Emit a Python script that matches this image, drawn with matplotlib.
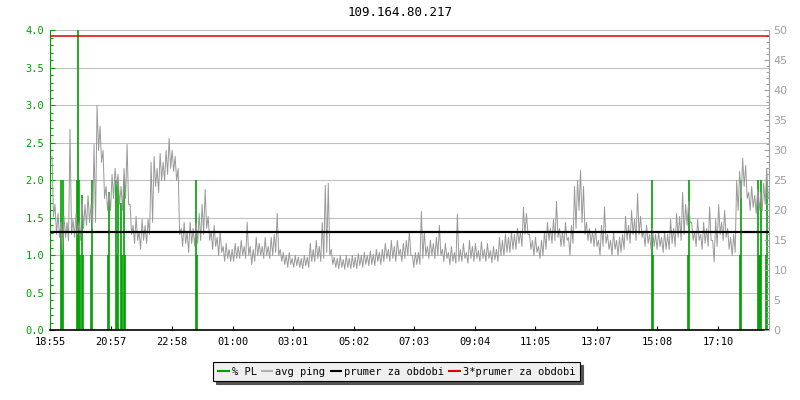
import numpy as np
import matplotlib.pyplot as plt
from matplotlib.ticker import MultipleLocator, FormatStrFormatter
from matplotlib.lines import Line2D

plt.rcParams['font.family'] = ['DejaVu Sans Mono']

title = "109.164.80.217"
tick_labels = ["18:55", "20:57", "22:58", "01:00", "03:01", "05:02",
               "07:03", "09:04", "11:05", "13:07", "15:08", "17:10"]

# avg ping [ms]: upper and lower edge of the jitter, one pair every ~6 minutes
ping_hi = [29, 21, 19.5, 18, 19, 18, 33.5, 18.5, 19.5, 18,
           22, 21, 22.5, 21, 31, 37.5, 34, 30, 24, 23,
           26, 27, 26, 24, 27, 31, 21, 17.5, 19, 16.5,
           18.5, 17.5, 18.5, 28, 29, 27, 29.5, 28, 30, 32,
           30, 29, 27, 17, 18, 16.5, 18, 17, 18, 19.5,
           21, 23.5, 19, 16.5, 17.5, 15.5, 16.5, 14, 14.5, 13.5,
           13.5, 14.5, 14, 15, 14, 18, 14, 13.5, 15.5, 14.5,
           14, 15.5, 14, 15.5, 16, 19.5, 13.5, 13, 12.5, 13,
           12, 12.5, 12.2, 12, 12.5, 12.2, 14.5, 13.5, 15, 14,
           18, 24.2, 24.5, 13.5, 12.2, 12, 12.5, 11.8, 12.5, 12,
           12.5, 12.2, 12.8, 12.5, 13, 12.5, 13.2, 12.7, 13.5, 13,
           13.5, 14.5, 13.5, 15, 14, 15, 13.5, 14.5, 15, 16.5,
           12.5, 13, 13, 19.8, 16.5, 14, 15, 14.5, 15.5, 17.5,
           13.5, 14.5, 13, 14, 13, 19.4, 13.5, 14.5, 13, 15,
           14, 14.5, 13.3, 14.8, 13.5, 14.5, 13.3, 14, 13.5, 15.5,
           15, 16, 15.5, 16.5, 16, 17, 16.5, 20.5, 19.5, 16,
           15, 15.5, 14, 15, 16.5, 18, 17, 18.5, 21.5, 17,
           16.5, 18, 15.5, 17.5, 24, 25, 26.7, 24, 18, 17,
           16.5,
           17, 15, 17.5, 20.6, 16, 15, 16.5, 15, 15.5, 16,
           19, 17.5, 20, 18.5, 22.8, 19, 16.5, 17.5, 16, 17,
           16, 16.5, 15.5, 16.5, 16, 18.5, 17, 19.5, 19, 23,
           21, 21.5, 18, 16.5, 18.5, 16, 18, 17, 20.6, 15,
           18.5, 21, 18, 20, 17, 15.5, 16, 25, 26.5, 28.7,
           27.5, 23, 24, 22.5, 23.5, 23, 24.5, 27]
ping_lo = [19, 16, 15.5, 13.5, 15.5, 15, 16, 15.5, 16, 15,
           17, 17.5, 18, 17, 18, 30, 28, 22, 20, 20,
           22, 24, 21, 20, 22, 21, 16, 14.5, 15, 13.5,
           15, 14.5, 16, 18, 24, 23, 25, 25, 26, 27,
           26.5, 25, 16, 14, 14.5, 13, 14.5, 14, 14.5, 15,
           16, 17, 15, 13.5, 14, 12.5, 13, 11.5, 12, 11.5,
           11.5, 12, 12, 12.5, 12, 12.5, 11, 11.5, 12.5, 12.5,
           12, 12.5, 12, 12.5, 13, 12.5, 11.5, 11, 10.5, 11,
           10.5, 10.8, 10.5, 10.3, 10.8, 10.5, 11.5, 11.5, 12, 11.5,
           12, 13, 12.5, 11, 10.5, 10.3, 10.5, 10.2, 10.5, 10.3,
           10.5, 10.3, 10.8, 10.5, 11, 10.8, 11, 10.8, 11.5, 11,
           11.5, 12, 11.5, 12, 11.5, 12.5, 11.5, 12, 12.5, 12.5,
           10.5, 11, 11, 12, 12.5, 12, 12.5, 12, 12.5, 12.5,
           11.5, 12, 11, 11.5, 11.2, 11.5, 11.5, 12, 11.2, 12,
           11.5, 12, 11.5, 12, 11.5, 12, 11.3, 11.8, 11.5, 12.5,
           12.5, 13, 13, 13.5, 13.5, 14.5, 14, 16, 16, 13.5,
           12.5, 13, 12, 12.5, 13.5, 15, 14.5, 15, 15.5, 14,
           14, 15, 12.5, 14.5, 17, 20, 18, 16, 15, 14.5,
           14,
           14, 12.5, 14, 14.5, 13.5, 12.5, 13.5, 12.5, 13, 13.5,
           15, 14.5, 16, 15, 16, 15.5, 14, 14.5, 13.5, 14,
           13.5, 14, 13, 13.5, 13.5, 14.5, 14, 15.5, 15, 16,
           17.5, 18, 15, 14, 15, 13.5, 14.5, 14, 15, 11.4,
           14, 16, 15, 15.5, 13.5, 12.5, 13, 20, 22, 24,
           22, 20, 20.5, 19.5, 20, 20, 21, 22]
ping_start, ping_end = 4, 1435   # minutes after 18:55

# packet loss events: minutes after 18:55, % PL
pl_t = [22, 24, 26, 54, 56, 58, 60, 64, 66, 82, 84, 116, 118,
        132, 134, 136, 142, 144, 148, 150, 292, 294,
        1202, 1204, 1274, 1276, 1378, 1380, 1414, 1416, 1418, 1420, 1430, 1432]
pl_v = [2, 1, 2, 2, 4, 2, 1, 1.8, 1, 1, 2, 1, 1.85,
        2, 1, 2, 1.7, 1, 2, 1, 2, 1,
        2, 1, 1, 2, 1, 2, 2, 1, 1, 2, 1, 2]

prumer = 16.35
x_end = 1437

green = '#00a000'
grey = '#999999'
axgrey = '#a0a0a0'

def to_min(s):
    h, m = s.split(':')
    return (int(h) * 60 + int(m) - (18 * 60 + 55)) % 1440

tick_pos = [to_min(s) for s in tick_labels]
ping = np.column_stack([ping_hi, ping_lo]).ravel()
ping_t = np.linspace(ping_start, ping_end, len(ping))

fig = plt.figure(figsize=(8, 4), dpi=100)
ax = fig.add_axes([0.0625, 0.174, 0.899, 0.75])
ax2 = ax.twinx()

ax.grid(axis='y', which='major', color='#c0c0c0', lw=0.8)
ax.vlines(pl_t, 0, pl_v, color=green, lw=1.2)

ax2.plot(ping_t, ping, color=grey, lw=0.7)
ax2.axhline(prumer, color='black', lw=1.6)
ax2.axhline(3 * prumer, color='#e00000', lw=1.1)

ax.set_xlim(0, x_end)
ax.set_ylim(0, 4)
ax2.set_ylim(0, 50)

ax.set_xticks(tick_pos, tick_labels)
ax.tick_params(axis='x', direction='in', length=3, width=0.8, labelsize=7.5, pad=4.5)
ax.yaxis.set_major_locator(MultipleLocator(0.5))
ax.yaxis.set_minor_locator(MultipleLocator(0.1))
ax.yaxis.set_major_formatter(FormatStrFormatter('%.1f'))
ax.tick_params(axis='y', which='major', direction='in', length=3.5, width=0.8,
               colors=green, labelsize=7.5, pad=4)
ax.tick_params(axis='y', which='minor', direction='in', length=2.2, width=0.8, colors=green)

ax2.yaxis.set_major_locator(MultipleLocator(5))
ax2.yaxis.set_minor_locator(MultipleLocator(1))
ax2.tick_params(axis='y', which='major', direction='in', length=3.5, width=0.8,
                colors=axgrey, labelsize=8, pad=3)
ax2.tick_params(axis='y', which='minor', direction='in', length=2.2, width=0.8, colors=axgrey)
for lab in ax2.get_yticklabels():
    lab.set_family('DejaVu Sans')

for a in (ax, ax2):
    a.spines['top'].set_visible(False)
ax.spines['right'].set_visible(False)
ax2.spines['left'].set_visible(False)
ax2.spines['bottom'].set_visible(False)
ax.spines['left'].set_color(green)
ax.spines['bottom'].set_color('black')
ax.spines['bottom'].set_linewidth(1.2)
ax2.spines['right'].set_color(axgrey)

fig.text(0.5, 1 - 13 / 400, title, ha='center', va='center', fontsize=9)

handles = [Line2D([], [], color=green, lw=1.5),
           Line2D([], [], color='#b0b0b0', lw=1.5),
           Line2D([], [], color='black', lw=1.5),
           Line2D([], [], color='#e00000', lw=1.5)]
labels = ["% PL", "avg ping", "prumer za obdobi", "3*prumer za obdobi"]
leg = fig.legend(handles, labels, loc='center', bbox_to_anchor=(0.496, 0.071), ncol=4,
                 frameon=True, fancybox=False, shadow={'color': '#555555', 'alpha': 1},
                 edgecolor='black', facecolor='#efefef', framealpha=1,
                 fontsize=7.5, handlelength=1.0, handletextpad=0.3,
                 columnspacing=0.5, borderpad=0.45)
leg.get_frame().set_linewidth(0.8)

fig.savefig('out.png', dpi=100)
